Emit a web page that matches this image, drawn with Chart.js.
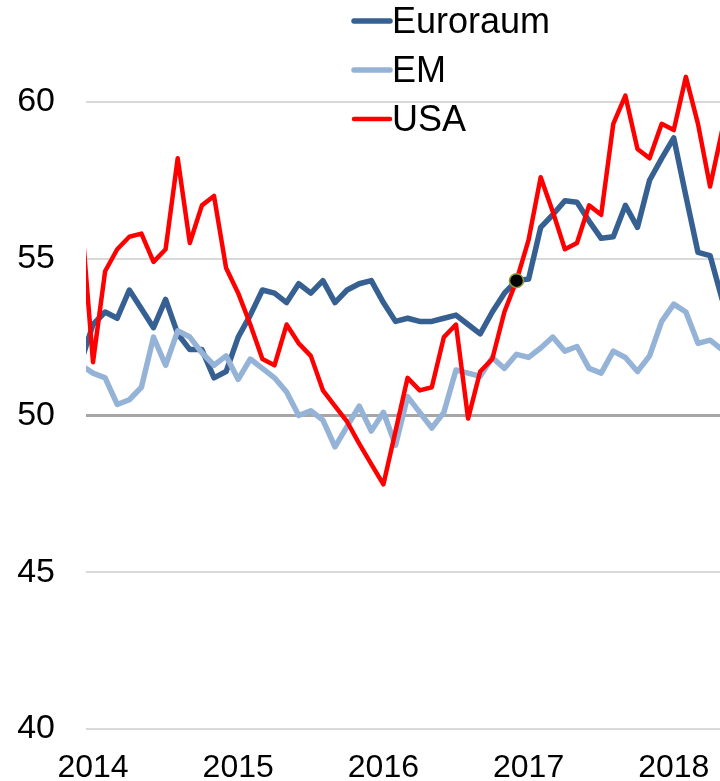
<!DOCTYPE html>
<html>
<head>
<meta charset="utf-8">
<title>Einkaufsmanagerindizes</title>
<script src="https://cdn.jsdelivr.net/npm/chart.js@4/dist/chart.umd.min.js"></script>
<style>
  html, body { margin: 0; padding: 0; background: #ffffff; overflow: hidden; }
  canvas { display: block; }
</style>
</head>
<body>
<canvas id="pmi" width="720" height="781"></canvas>
<script>
// Monthly observations, Dec 2013 to May 2018
const months = [
  '2013-12',
  '2014-01','2014-02','2014-03','2014-04','2014-05','2014-06','2014-07','2014-08','2014-09','2014-10','2014-11','2014-12',
  '2015-01','2015-02','2015-03','2015-04','2015-05','2015-06','2015-07','2015-08','2015-09','2015-10','2015-11','2015-12',
  '2016-01','2016-02','2016-03','2016-04','2016-05','2016-06','2016-07','2016-08','2016-09','2016-10','2016-11','2016-12',
  '2017-01','2017-02','2017-03','2017-04','2017-05','2017-06','2017-07','2017-08','2017-09','2017-10','2017-11','2017-12',
  '2018-01','2018-02','2018-03','2018-04','2018-05'
];

const euroraum = [
  51.7,
  52.9, 53.3, 53.1, 54.0, 53.4, 52.8, 53.7, 52.6, 52.1, 52.1, 51.2, 51.4,
  52.5, 53.2, 54.0, 53.9, 53.6, 54.2, 53.9, 54.3, 53.6, 54.0, 54.2, 54.3,
  53.6, 53.0, 53.1, 53.0, 53.0, 53.1, 53.2, 52.9, 52.6, 53.3, 53.9, 54.3,
  54.35, 56.0, 56.4, 56.85, 56.8, 56.2, 55.65, 55.7, 56.7, 56.0, 57.5, 58.2,
  58.85, 57.0, 55.2, 55.1, 53.7
];

const em = [
  51.6,
  51.35, 51.2, 50.35, 50.5, 50.9, 52.5, 51.6, 52.7, 52.5, 52.0, 51.6, 51.9,
  51.15, 51.8, 51.5, 51.2, 50.75, 50.0, 50.15, 49.85, 49.0, 49.65, 50.3, 49.5,
  50.1, 49.05, 50.6, 50.1, 49.6, 50.1, 51.45, 51.35, 51.25, 51.85, 51.5, 51.95,
  51.85, 52.15, 52.5, 52.05, 52.2, 51.5, 51.35, 52.05, 51.85, 51.4, 51.9, 53.0,
  53.55, 53.3, 52.3, 52.4, 52.1
];

const usa = [
  56.5,
  51.7, 54.6, 55.3, 55.7, 55.8, 54.9, 55.3, 58.2, 55.5, 56.7, 57.0, 54.7,
  53.9, 52.9, 51.8, 51.6, 52.9, 52.3, 51.9, 50.8, 50.3, 49.8, 49.1, 48.45,
  47.8, 49.5, 51.2, 50.8, 50.9, 52.5, 52.9, 49.9, 51.4, 51.8, 53.3, 54.3,
  55.6, 57.6, 56.5, 55.3, 55.5, 56.7, 56.4, 59.3, 60.2, 58.5, 58.2, 59.3,
  59.1, 60.8, 59.3, 57.3, 59.1
];

const yearTicks = ['2014', '2015', '2016', '2017', '2018'];
const valueTicks = [40, 45, 50, 55, 60];
const markedMonth = '2016-12';

// months counted from January 2014
function monthIndex(m) {
  const [y, mo] = m.split('-').map(Number);
  return (y - 2014) * 12 + (mo - 1);
}
function toPoints(values) {
  return values.map((v, i) => ({ x: monthIndex(months[i]), y: v }));
}

const FONT = "'Liberation Sans', Arial, sans-serif";
const markIdx = months.indexOf(markedMonth);

// Stacked legend drawn over the upper part of the plot
const seriesLegend = {
  id: 'seriesLegend',
  afterDraw(chart) {
    const ctx = chart.ctx;
    const rows = chart.data.datasets.filter(d => !d.isMarker);
    const lineY = [21, 70, 119];
    const textY = [33, 82, 131];
    ctx.save();
    ctx.font = '36px ' + FONT;
    ctx.textBaseline = 'alphabetic';
    ctx.textAlign = 'left';
    rows.forEach((ds, i) => {
      ctx.strokeStyle = ds.borderColor;
      ctx.lineWidth = ds.borderWidth;
      ctx.lineCap = 'round';
      ctx.beginPath();
      ctx.moveTo(354, lineY[i]);
      ctx.lineTo(390, lineY[i]);
      ctx.stroke();
      ctx.fillStyle = '#000000';
      ctx.fillText(ds.label, 392, textY[i]);
    });
    ctx.restore();
  }
};

new Chart(document.getElementById('pmi'), {
  type: 'line',
  data: {
    datasets: [
      { label: 'Euroraum', data: toPoints(euroraum), borderColor: '#376092', borderWidth: 5.5, order: 3, clip: 0 },
      { label: 'EM', data: toPoints(em), borderColor: '#95B3D7', borderWidth: 5.5, order: 2, clip: 0 },
      { label: 'USA', data: toPoints(usa), borderColor: '#FF0000', borderWidth: 4.5, order: 1, clip: 0 },
      {
        label: 'Markierung', isMarker: true, showLine: false, order: 0,
        data: [{ x: monthIndex(markedMonth), y: euroraum[markIdx] }],
        pointRadius: 7, pointBackgroundColor: '#000000',
        pointBorderColor: '#8C9B3A', pointBorderWidth: 1.5
      }
    ]
  },
  options: {
    responsive: false,
    devicePixelRatio: 1,
    animation: false,
    layout: { padding: 0, autoPadding: false },
    elements: {
      line: { tension: 0, borderJoinStyle: 'round', borderCapStyle: 'round', fill: false },
      point: { radius: 0, hoverRadius: 0 }
    },
    plugins: { legend: { display: false }, tooltip: { enabled: false } },
    scales: {
      x: {
        type: 'linear',
        min: -0.58,
        max: 51.82,
        grid: { display: false, drawTicks: false },
        border: { display: false },
        afterBuildTicks: s => { s.ticks = yearTicks.map(y => ({ value: monthIndex(y + '-01') })); },
        ticks: {
          callback: (v, i) => yearTicks[i],
          font: { family: FONT, size: 32 },
          color: '#000000',
          padding: 20,
          maxRotation: 0,
          autoSkip: false
        },
        afterFit: s => { s.height = 52; s.paddingLeft = 0; s.paddingRight = 0; }
      },
      y: {
        min: 40,
        max: 63.25,
        afterBuildTicks: s => { s.ticks = valueTicks.map(v => ({ value: v })); },
        grid: {
          color: c => (c.tick && c.tick.value === 50) ? '#A6A6A6' : '#D9D9D9',
          lineWidth: c => (c.tick && c.tick.value === 50) ? 3 : 2,
          drawTicks: false
        },
        border: { display: false },
        ticks: {
          font: { family: FONT, size: 34 },
          color: '#000000',
          padding: 31
        },
        afterFit: s => { s.width = 86; s.paddingTop = 0; s.paddingBottom = 0; }
      }
    }
  },
  plugins: [seriesLegend]
});
</script>
</body>
</html>
